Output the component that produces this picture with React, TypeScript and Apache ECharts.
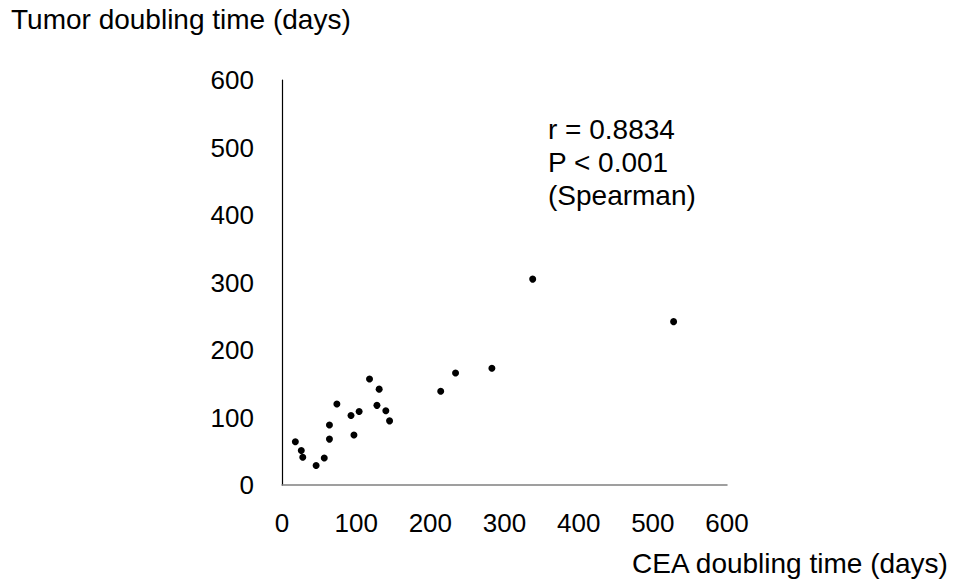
import React, { useEffect, useRef } from "react";
import * as echarts from "echarts";

const ceaDoubling = [18, 26, 28, 46, 57, 64, 64, 74, 93, 97, 104, 118, 128, 131, 140, 145, 214, 234, 283, 338, 528];
const tumorDoubling = [64, 51, 41, 29, 40, 68, 89, 120, 103, 74, 109, 157, 118, 142, 110, 95, 139, 166, 173, 305, 242];
const annotationLines = ["r = 0.8834", "P < 0.001", "(Spearman)"];
const xTitle = "CEA doubling time (days)";
const yTitle = "Tumor doubling time (days)";

export default function App() {
  const ref = useRef<HTMLDivElement>(null);
  useEffect(() => {
    if (!ref.current) return;
    const chart = echarts.init(ref.current, undefined, { renderer: "svg" });
    const font = "Liberation Sans, Arial, sans-serif";
    chart.setOption({
      animation: false,
      backgroundColor: "#ffffff",
      grid: { left: 282, right: 227, top: 80, bottom: 100 },
      xAxis: {
        type: "value",
        min: 0,
        max: 600,
        interval: 100,
        axisLine: { show: true, lineStyle: { color: "#808080", width: 1.5 } },
        axisTick: { show: false },
        splitLine: { show: false },
        axisLabel: { color: "#000", fontSize: 26, fontFamily: font, margin: 25 },
      },
      yAxis: {
        type: "value",
        min: 0,
        max: 600,
        interval: 100,
        axisLine: { show: true, lineStyle: { color: "#000", width: 1.2 } },
        axisTick: { show: false },
        splitLine: { show: false },
        axisLabel: { color: "#000", fontSize: 26, fontFamily: font, margin: 28 },
      },
      series: [
        {
          type: "scatter",
          symbol: "circle",
          symbolSize: 7,
          itemStyle: { color: "#000", opacity: 1 },
          data: ceaDoubling.map((x, i) => [x, tumorDoubling[i]]),
        },
      ],
      graphic: [
        {
          type: "text",
          left: 11,
          top: 5,
          style: { text: yTitle, fontSize: 28, fontFamily: font, fill: "#000" },
        },
        {
          type: "text",
          left: 632,
          top: 549,
          style: { text: xTitle, fontSize: 28, fontFamily: font, fill: "#000" },
        },
        {
          type: "text",
          left: 548,
          top: 113,
          style: {
            text: annotationLines.join("\n"),
            fontSize: 28,
            lineHeight: 33,
            fontFamily: font,
            fill: "#000",
          },
        },
      ],
    });
    return () => chart.dispose();
  }, []);
  return (
    <div
      ref={ref}
      style={{ position: "fixed", left: 0, top: 0, width: 954, height: 585, background: "#fff" }}
    />
  );
}
